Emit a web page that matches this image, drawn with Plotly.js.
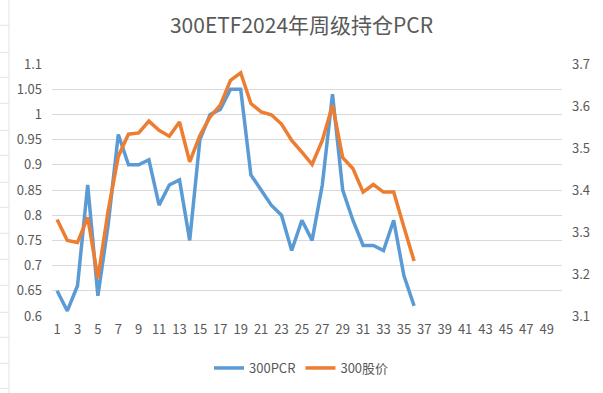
<!DOCTYPE html>
<html>
<head>
<meta charset="utf-8">
<script src="https://cdn.plot.ly/plotly-3.0.1.min.js"></script>
<style>html,body{margin:0;padding:0;background:#fff;}#chart{width:603px;height:393px;}</style>
</head>
<body>
<div id="chart"></div>
<script>
const weeks = [1,2,3,4,5,6,7,8,9,10,11,12,13,14,15,16,17,18,19,20,21,22,23,24,25,26,27,28,29,30,31,32,33,34,35,36];
const pcr = [0.65,0.61,0.66,0.86,0.64,0.78,0.96,0.90,0.90,0.91,0.82,0.86,0.87,0.75,0.95,1.00,1.01,1.05,1.05,0.88,0.85,0.82,0.80,0.73,0.79,0.75,0.86,1.04,0.85,0.79,0.74,0.74,0.73,0.79,0.68,0.62];
const price = [3.33,3.28,3.275,3.335,3.19,3.35,3.48,3.533,3.536,3.564,3.542,3.528,3.562,3.467,3.53,3.574,3.602,3.661,3.679,3.606,3.586,3.579,3.557,3.518,3.49,3.461,3.518,3.602,3.477,3.451,3.395,3.413,3.395,3.395,3.312,3.231];
const xTicks = [1,3,5,7,9,11,13,15,17,19,21,23,25,27,29,31,33,35,37,39,41,43,45,47,49];
const leftTicks = [0.6,0.65,0.7,0.75,0.8,0.85,0.9,0.95,1,1.05,1.1];
const rightTicks = [3.1,3.2,3.3,3.4,3.5,3.6,3.7];
const seriesNames = ['300PCR','300股价'];

const font = "'Noto Sans CJK SC', 'Noto Sans', sans-serif";
const txt = '#595959';

const traces = [
  {x: weeks, y: pcr, name: seriesNames[0], type: 'scatter', mode: 'lines',
   line: {color: '#5B9BD5', width: 3.5}, yaxis: 'y'},
  {x: weeks, y: price, name: seriesNames[1], type: 'scatter', mode: 'lines',
   line: {color: '#ED7D31', width: 3.5}, yaxis: 'y2'}
];

const shapes = [{type:'line', xref:'paper', yref:'paper', x0:-43/510, x1:-43/510, y0:-77/252, y1:63.7/252+1,
  line:{color:'#e3e3e3', width:1}}];
[25,52,77,103,130,155,182,207,233,259,285,312,337,363,388].forEach(py => {
  const yp = (315.7 - py)/252;
  shapes.push({type:'line', xref:'paper', yref:'paper', x0:-52/510, x1:-43/510, y0:yp, y1:yp, line:{color:'#e3e3e3', width:1}});
});

const layout = {
  width: 603, height: 393,
  margin: {l: 52, r: 41, t: 63.7, b: 77.3, pad: 0},
  paper_bgcolor: '#fff', plot_bgcolor: '#fff',
  font: {family: font, color: txt, size: 13},
  title: {text: '300ETF2024年周级持仓PCR', x: 0.5, xref: 'container', xanchor: 'center',
          y: 1 - 26/393, yref: 'container', yanchor: 'middle',
          font: {family: font, size: 21, color: txt}},
  showlegend: true,
  legend: {orientation: 'h', x: 0.5, xref: 'container', xanchor: 'center',
           y: 1 - 368/393, yref: 'container', yanchor: 'middle',
           font: {family: font, size: 13, color: txt}, itemwidth: 30, tracegroupgap: 0},
  xaxis: {range: [0.5, 50.5], tickmode: 'array', tickvals: xTicks, ticktext: xTicks.map(String),
          showgrid: false, zeroline: false, showline: false, ticks: '',
          tickfont: {family: font, size: 13, color: txt}, ticklabelstandoff: 4, fixedrange: true},
  yaxis: {range: [0.6, 1.1], tickmode: 'array', tickvals: leftTicks, ticktext: leftTicks.map(String),
          showgrid: true, gridcolor: '#d9d9d9', gridwidth: 1, zeroline: false, showline: false, ticks: '',
          tickfont: {family: font, size: 13, color: txt}, ticklabelstandoff: 9},
  yaxis2: {range: [3.1, 3.7], overlaying: 'y', side: 'right', tickmode: 'array', tickvals: rightTicks,
           ticktext: rightTicks.map(v => v.toFixed(1)), showgrid: false, zeroline: false, showline: false, ticks: '',
           tickfont: {family: font, size: 13, color: txt}, ticklabelstandoff: 9},
  shapes: shapes
};

Plotly.newPlot('chart', traces, layout, {displayModeBar: false, staticPlot: true});
</script>
</body>
</html>
